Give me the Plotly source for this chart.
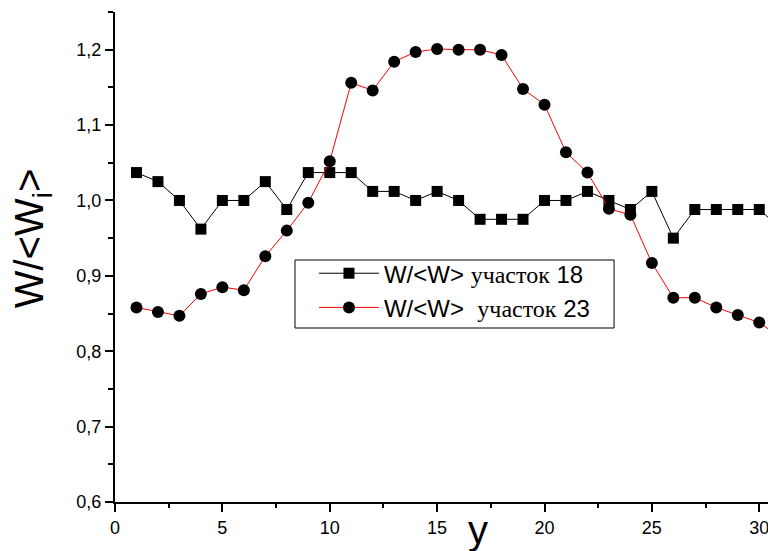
import plotly.graph_objects as go

positions = list(range(1, 32))
w18 = [1.037, 1.025, 1.000, 0.962, 1.000, 1.000, 1.025, 0.988, 1.037, 1.037,
       1.037, 1.012, 1.012, 1.000, 1.012, 1.000, 0.975, 0.975, 0.975, 1.000,
       1.000, 1.012, 1.000, 0.988, 1.012, 0.950, 0.988, 0.988, 0.988, 0.988,
       0.963]
w23 = [0.858, 0.852, 0.847, 0.876, 0.885, 0.881, 0.926, 0.960, 0.997, 1.052,
       1.156, 1.146, 1.184, 1.197, 1.201, 1.200, 1.200, 1.193, 1.148, 1.127,
       1.064, 1.037, 0.989, 0.981, 0.917, 0.871, 0.871, 0.858, 0.848, 0.838,
       0.818]

name18 = "W/&lt;W&gt; <span style='font-family:Liberation Serif'>участок</span> 18"
name23 = "W/&lt;W&gt;&nbsp; <span style='font-family:Liberation Serif'>участок</span> 23"

fig = go.Figure()
fig.add_trace(go.Scatter(
    x=positions, y=w18, mode="lines+markers", name=name18,
    line=dict(color="black", width=1),
    marker=dict(symbol="square", size=11, color="black"),
))
fig.add_trace(go.Scatter(
    x=positions, y=w23, mode="lines+markers", name=name23,
    line=dict(color="red", width=1),
    marker=dict(symbol="circle", size=12, color="black"),
))

axis_common = dict(
    showline=True, linecolor="black", linewidth=2,
    ticks="outside", ticklen=8, tickwidth=2, tickcolor="black",
    showgrid=False, zeroline=False, mirror=False, automargin=False,
    tickfont=dict(family="Liberation Sans", size=18, color="black"),
)

fig.update_xaxes(range=[0, 30.78], tick0=0, dtick=5, tickformat="d",
                 minor=dict(dtick=2.5, ticks="outside", ticklen=4, tickwidth=2,
                            tickcolor="black"),
                 **axis_common)
fig.update_yaxes(range=[0.6, 1.25], tick0=0.6, dtick=0.1, tickformat=".1f",
                 minor=dict(dtick=0.05, ticks="outside", ticklen=5, tickwidth=2,
                            tickcolor="black"),
                 **axis_common)

# page body adds an 8px offset, so the figure is 8px smaller than the window
fig.update_layout(
    width=768, height=543,
    margin=dict(l=107, r=0, t=4, b=49),
    paper_bgcolor="white", plot_bgcolor="white",
    separators=", ",
    font=dict(family="Liberation Sans", color="black"),
    legend=dict(x=0.301, y=0.512, xanchor="left", yanchor="top",
                borderwidth=0, bgcolor="rgba(0,0,0,0)",
                itemwidth=60,
                font=dict(family="Liberation Sans", size=24, color="black")),
    shapes=[
        dict(type="rect", xref="paper", yref="paper",
             x0=0.2723, x1=0.755, y0=0.3551, y1=0.4939,
             line=dict(color="black", width=1), fillcolor="white",
             layer="above"),
    ],
    annotations=[
        dict(text="W/&lt;W<sub>i</sub>&gt;", xref="paper", yref="paper",
             x=-0.125, y=0.539, xanchor="center", yanchor="middle",
             textangle=-90, showarrow=False,
             font=dict(family="Liberation Sans", size=40, color="black")),
        dict(text="y", xref="paper", yref="paper",
             x=0.549, y=-0.008, xanchor="center", yanchor="top",
             showarrow=False,
             font=dict(family="Liberation Sans", size=40, color="black")),
    ],
)

fig.write_html("out.html")
